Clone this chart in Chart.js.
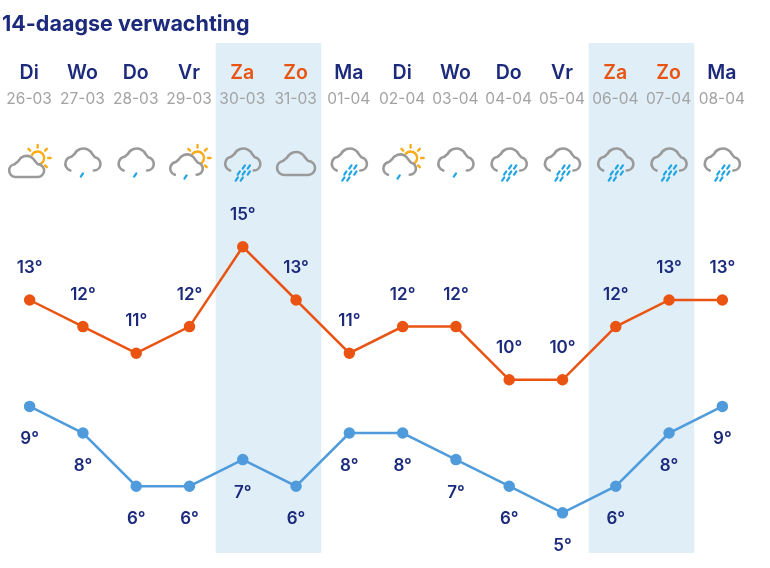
<!DOCTYPE html>
<html>
<head>
<meta charset="utf-8">
<title>14-daagse verwachting</title>
<script src="https://cdn.jsdelivr.net/npm/chart.js@4"></script>
<style>
    html, body { margin: 0; padding: 0; background: #fff; }
    #wrap { position: relative; width: 770px; height: 568px; }
</style>
</head>
<body>
<div id="wrap"><canvas id="tsChart" width="770" height="568"></canvas></div>
<script>
const days = ["Di", "Wo", "Do", "Vr", "Za", "Zo", "Ma", "Di", "Wo", "Do", "Vr", "Za", "Zo", "Ma"];
const dates = ["26-03", "27-03", "28-03", "29-03", "30-03", "31-03", "01-04", "02-04", "03-04", "04-04", "05-04", "06-04", "07-04", "08-04"];
const maxTemps = [13, 12, 11, 12, 15, 13, 11, 12, 12, 10, 10, 12, 13, 13];
const minTemps = [9, 8, 6, 6, 7, 6, 8, 8, 7, 6, 5, 6, 8, 9];
const icons = ["sun", "drizzle", "drizzle", "sundrizzle", "rain", "cloud", "rain", "sundrizzle", "drizzle", "rain", "rain", "rain", "rain", "rain"];
const weekend = [[4, 5], [11, 12]];

const NAVY = "#1c2a7c";
const ORANGE = "#ea5412";
const BLUE = "#4f9bdc";
const GREY = "#9a9a9a";
const DROP = "#22a5e3";
const SUN = "#fbab18";

// cy is the middle of the cloud, s scales it
function cloudPath(ctx, cx, cy, s, open) {
    ctx.beginPath();
    if (open) {
        ctx.arc(cx - 11 * s, cy + 4 * s, 7.5 * s, Math.PI * 0.6, Math.PI * 1.45);
        ctx.arc(cx + 0.5 * s, cy - 1.5 * s, 10.5 * s, Math.PI * 1.15, Math.PI * 1.85);
        ctx.arc(cx + 11.5 * s, cy + 4 * s, 7 * s, Math.PI * 1.55, Math.PI * 0.5);
    } else {
        ctx.moveTo(cx + 12 * s, cy + 12 * s);
        ctx.lineTo(cx - 12 * s, cy + 12 * s);
        ctx.arc(cx - 12 * s, cy + 5 * s, 7 * s, Math.PI * 0.5, Math.PI * 1.45);
        ctx.arc(cx, cy - 1 * s, 10 * s, Math.PI * 1.15, Math.PI * 1.85);
        ctx.arc(cx + 12 * s, cy + 5 * s, 7 * s, Math.PI * 1.5, Math.PI * 0.5);
        ctx.closePath();
    }
    ctx.stroke();
}

function drawDrop(ctx, x, y) {
    ctx.beginPath();
    ctx.moveTo(x + 1.1, y - 1.6);
    ctx.lineTo(x - 1.1, y + 1.6);
    ctx.stroke();
}

function drawSun(ctx, cx, cy) {
    ctx.strokeStyle = SUN;
    ctx.lineWidth = 2.4;
    ctx.beginPath();
    ctx.arc(cx, cy, 6.5, 0, Math.PI * 2);
    ctx.stroke();
    for (let i = 0; i < 8; i++) {
        const a = i * Math.PI / 4;
        ctx.beginPath();
        ctx.moveTo(cx + Math.cos(a) * 10.5, cy + Math.sin(a) * 10.5);
        ctx.lineTo(cx + Math.cos(a) * 13, cy + Math.sin(a) * 13);
        ctx.stroke();
    }
}

function drawIcon(ctx, type, cx, cy) {
    ctx.save();
    ctx.lineCap = "round";
    ctx.lineJoin = "round";
    if (type === "sun" || type === "sundrizzle") {
        drawSun(ctx, cx + 8, cy - 4);
        // knock the sun out behind the cloud
        ctx.fillStyle = "#fff";
        ctx.beginPath();
        ctx.arc(cx - 13, cy + 8, 8, 0, Math.PI * 2);
        ctx.arc(cx - 4, cy + 3, 11, 0, Math.PI * 2);
        ctx.arc(cx + 5, cy + 9, 9, 0, Math.PI * 2);
        ctx.fill();
    }
    ctx.strokeStyle = GREY;
    ctx.lineWidth = 2.6;
    if (type === "sun") {
        cloudPath(ctx, cx - 3, cy + 4, 0.92, false);
    } else if (type === "sundrizzle") {
        cloudPath(ctx, cx - 3, cy + 3, 0.88, true);
    } else if (type === "cloud") {
        cloudPath(ctx, cx, cy + 1, 1, false);
    } else {
        cloudPath(ctx, cx, cy - 2, 0.95, true);
    }
    ctx.strokeStyle = DROP;
    ctx.lineWidth = 2.2;
    if (type === "drizzle") drawDrop(ctx, cx - 1, cy + 13);
    if (type === "sundrizzle") drawDrop(ctx, cx - 4, cy + 15);
    if (type === "rain") {
        [[-1, 5], [4, 5], [-6, 11], [-1, 11], [4, 11], [-8, 17], [-3, 17]].forEach(d => drawDrop(ctx, cx + 2 + d[0], cy + d[1]));
    }
    ctx.restore();
}

const weatherPlugin = {
    id: "weather",
    beforeDatasetsDraw(chart) {
        const { ctx, scales: { x }, chartArea } = chart;
        const half = (x.getPixelForValue(1) - x.getPixelForValue(0)) / 2;
        ctx.save();
        ctx.fillStyle = "#e0eef8";
        weekend.forEach(w => {
            const left = x.getPixelForValue(w[0]) - half - 0.5;
            const right = x.getPixelForValue(w[1]) + half - 1.5;
            ctx.fillRect(left, chartArea.top, right - left, chartArea.bottom - chartArea.top);
        });
        ctx.restore();
    },
    afterDatasetsDraw(chart) {
        const { ctx, scales: { x, y } } = chart;
        ctx.save();
        ctx.textAlign = "left";
        ctx.textBaseline = "alphabetic";
        ctx.fillStyle = NAVY;
        ctx.font = "700 21.5px Inter, sans-serif";
        ctx.fillText("14-daagse verwachting", 2, 31);

        ctx.textAlign = "center";
        days.forEach((d, i) => {
            const px = x.getPixelForValue(i);
            const isWeekend = weekend.some(w => w.includes(i));
            ctx.fillStyle = isWeekend ? ORANGE : NAVY;
            ctx.font = "600 19.5px Inter, sans-serif";
            ctx.fillText(d, px - 0.5, 79);
            ctx.fillStyle = "#a3a3a3";
            ctx.font = "400 15.5px Inter, sans-serif";
            ctx.fillText(dates[i], px - 0.5, 104);
            drawIcon(ctx, icons[i], px, 162);
        });

        ctx.fillStyle = NAVY;
        ctx.font = "600 17px Inter, sans-serif";
        maxTemps.forEach((t, i) => ctx.fillText(t + "°", x.getPixelForValue(i), y.getPixelForValue(t) - 27));
        minTemps.forEach((t, i) => ctx.fillText(t + "°", x.getPixelForValue(i), y.getPixelForValue(t) + 38));
        ctx.restore();
    }
};

new Chart(document.getElementById("tsChart"), {
    type: "line",
    data: {
        labels: dates,
        datasets: [
            { label: "Max", data: maxTemps, borderColor: ORANGE, backgroundColor: ORANGE, borderWidth: 2.5, pointRadius: 4.5, tension: 0 },
            { label: "Min", data: minTemps, borderColor: BLUE, backgroundColor: BLUE, borderWidth: 2.5, pointRadius: 4.5, tension: 0 }
        ]
    },
    options: {
        responsive: false,
        animation: false,
        layout: { autoPadding: false, padding: { left: 3, right: 21, top: 43, bottom: 15 } },
        scales: {
            x: { type: "category", offset: true, display: false },
            y: { type: "linear", min: 3.49, max: 22.66, display: false }
        },
        plugins: { legend: { display: false }, tooltip: { enabled: false } }
    },
    plugins: [weatherPlugin]
});
</script>
</body>
</html>
